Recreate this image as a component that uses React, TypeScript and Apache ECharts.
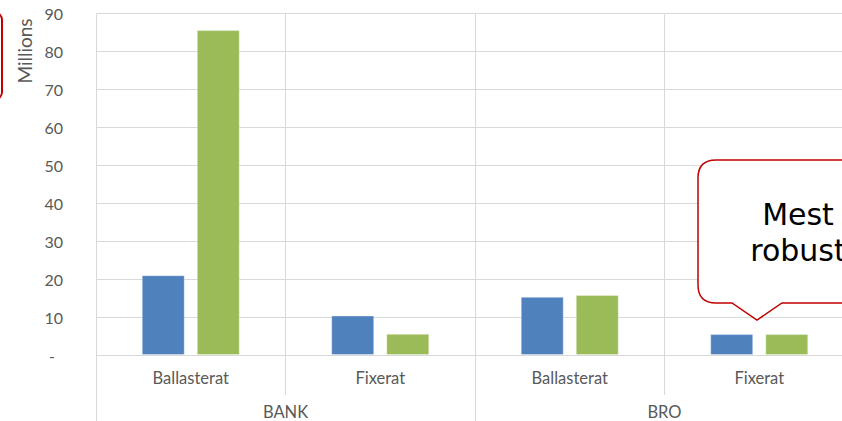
import React, { useEffect, useRef } from "react";
import * as echarts from "echarts";

const groups = ["BANK", "BRO"];
const categories = ["BANK|Ballasterat", "BANK|Fixerat", "BRO|Ballasterat", "BRO|Fixerat"];
const seriesBlue = [21, 10.4, 15.3, 5.5];
const seriesGreen = [85.5, 5.6, 15.8, 5.5];
const yTicks = { min: 0, max: 90, interval: 10 };
const unitLabel = "Millions";
const calloutText = "Mest\nrobust";

const calloutPath =
  "M716 160 L900 160 L900 303 L782 303 L757 320 L732 303 L716 303 Q698 303 698 285 L698 178 Q698 160 716 160 Z";

let registered = false;

export default function App() {
  const ref = useRef<HTMLDivElement>(null);
  useEffect(() => {
    if (!ref.current) return;
    if (!registered) {
      echarts.graphic.registerShape("callout", echarts.graphic.extendPath(calloutPath, {}));
      registered = true;
    }
    const chart = echarts.init(ref.current, null, { renderer: "svg" });
    const font = "Lato, 'Liberation Sans', sans-serif";
    const grey = "#d9d9d9";
    chart.setOption({
      animation: false,
      grid: { left: 96, top: 13, bottom: 66, width: 758, outerBoundsMode: "none", containLabel: false },
      xAxis: [
        {
          type: "category",
          data: categories,
          position: "bottom",
          axisLine: { show: true, lineStyle: { color: grey, width: 1 } },
          axisTick: { show: true, length: 40, lineStyle: { color: grey } },
          splitLine: { show: true, lineStyle: { color: grey } },
          axisLabel: {
            margin: 14,
            fontFamily: font,
            fontSize: 16.5,
            color: "#595959",
            formatter: (v: string) => v.split("|")[1],
          },
        },
        {
          type: "category",
          data: groups,
          position: "bottom",
          offset: 40,
          axisLine: { show: false },
          axisTick: { show: true, length: 26, lineStyle: { color: grey } },
          axisLabel: { margin: 8, fontFamily: font, fontSize: 16.5, color: "#595959" },
        },
      ],
      yAxis: {
        type: "value",
        min: yTicks.min,
        max: yTicks.max,
        interval: yTicks.interval,
        axisLine: { show: false },
        axisTick: { show: false },
        splitLine: { lineStyle: { color: grey } },
        axisLabel: {
          margin: 33,
          fontFamily: font,
          fontSize: 16,
          color: "#595959",
          formatter: (v: number) => (v === 0 ? "{d|-}" : String(v)),
          rich: { d: { padding: [0, 8, 0, 0], fontFamily: font, fontSize: 16, color: "#595959" } },
        },
      },
      series: [
        {
          type: "bar",
          data: seriesBlue,
          xAxisIndex: 0,
          barWidth: 43,
          barGap: "28%",
          itemStyle: { color: "#4f81bd", borderColor: "rgba(255,255,255,0.35)", borderWidth: 1 },
        },
        {
          type: "bar",
          data: seriesGreen,
          xAxisIndex: 0,
          barWidth: 43,
          barGap: "28%",
          itemStyle: { color: "#9bbb59", borderColor: "rgba(255,255,255,0.35)", borderWidth: 1 },
        },
      ],
      graphic: [
        {
          type: "text",
          x: 24,
          y: 51,
          rotation: Math.PI / 2,
          style: {
            text: unitLabel,
            fontFamily: font,
            fontSize: 19,
            fill: "#595959",
            align: "center",
            verticalAlign: "middle",
          },
        },
        {
          type: "rect",
          shape: { x: -60, y: 12, width: 62, height: 88, r: 8 },
          style: { fill: "none", stroke: "#c00000", lineWidth: 2 },
        },
        {
          type: "callout",
          x: 0,
          y: 0,
          style: { fill: "#ffffff", stroke: "#c00000", lineWidth: 1.5 },
          z: 10,
        },
        {
          type: "text",
          x: 798,
          y: 232,
          z: 11,
          style: {
            text: calloutText,
            fontFamily: "'DejaVu Sans', Verdana, sans-serif",
            fontSize: 30,
            lineHeight: 36,
            fill: "#000000",
            align: "center",
            verticalAlign: "middle",
          },
        },
      ],
    });
    return () => chart.dispose();
  }, []);
  return (
    <div
      ref={ref}
      style={{ position: "fixed", left: 0, top: 0, width: 842, height: 421, background: "#fff" }}
    />
  );
}
